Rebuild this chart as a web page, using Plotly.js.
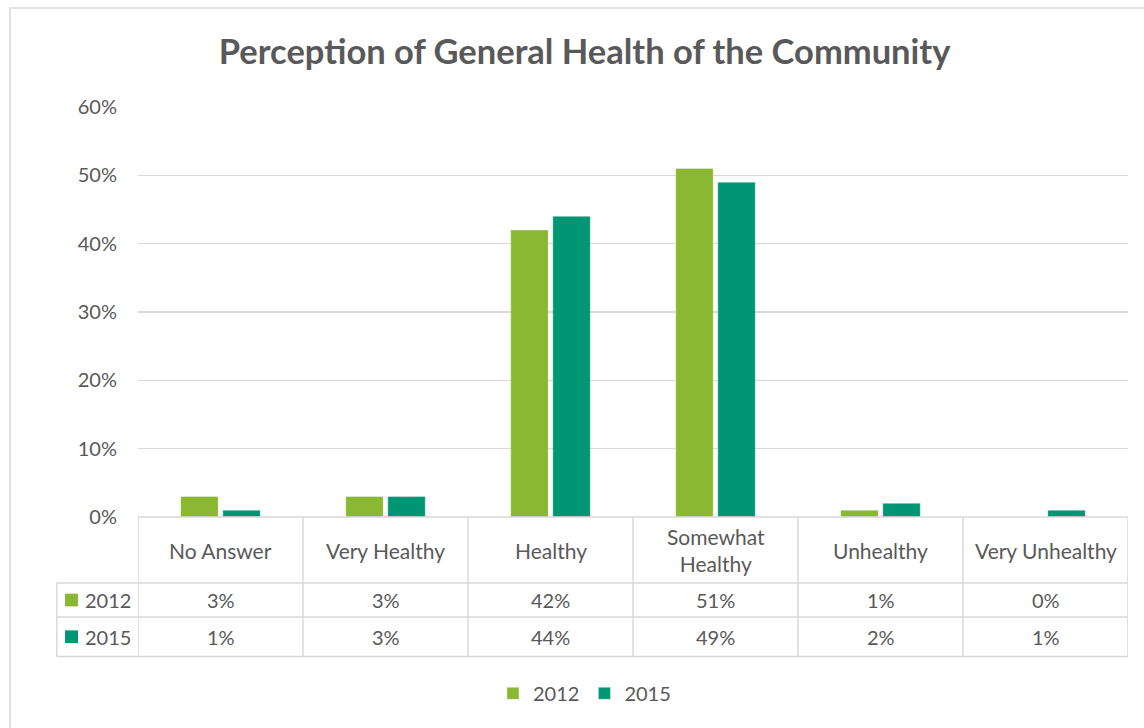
<!DOCTYPE html>
<html><head><meta charset="utf-8">
<script src="https://cdn.plot.ly/plotly-3.0.1.min.js"></script>
<style>html,body{margin:0;padding:0;background:#fff}#chart{width:1144px;height:728px}</style>
</head><body><div id="chart"></div>
<script>
const categories = ["No Answer", "Very Healthy", "Healthy", "Somewhat Healthy", "Unhealthy", "Very Unhealthy"];
const categoryLabels = ["No Answer", "Very Healthy", "Healthy", "Somewhat<br>Healthy", "Unhealthy", "Very Unhealthy"];
const seriesNames = ["2012", "2015"];
const values2012 = [3, 3, 42, 51, 1, 0];
const values2015 = [1, 3, 44, 49, 2, 1];
const yTicks = [0, 10, 20, 30, 40, 50, 60];

const colors = ["#8ab833", "#009673"];
const txt = "#595959";
const grid = "#d9d9d9";
const FONT = "Lato, 'Open Sans', sans-serif";
const allSeries = [values2012, values2015];

const traces = allSeries.map((vals, i) => ({
  type: "bar", name: seriesNames[i], x: categories.map((c, k) => k), y: vals,
  marker: {color: colors[i], line: {color: "rgba(255,255,255,0.35)", width: 1}},
  hoverinfo: "skip"
}));

const rowY = [0, -0.161, -0.244, -0.34];
const shapes = [];
const lc = {color: grid, width: 1.5};
shapes.push({type: "line", xref: "x", yref: "paper", x0: -0.5, x1: categories.length - 0.5, y0: rowY[0], y1: rowY[0], line: lc});
for (let r = 1; r < rowY.length; r++) {
  shapes.push({type: "line", xref: "paper", yref: "paper", x0: -0.082, x1: 1, y0: rowY[r], y1: rowY[r], line: lc});
}
for (let k = 0; k <= categories.length; k++) {
  shapes.push({type: "line", xref: "x", yref: "paper", x0: k - 0.5, x1: k - 0.5, y0: rowY[0], y1: rowY[3], line: lc});
}
shapes.push({type: "line", xref: "paper", yref: "paper", x0: -0.082, x1: -0.082, y0: rowY[1], y1: rowY[3], line: lc});
shapes.push({type: "rect", xref: "paper", yref: "paper", x0: -0.1293, x1: 1.05, y0: -0.6, y1: 1.2415, line: {color: grid, width: 1.5}});
for (let i = 0; i < seriesNames.length; i++) {
  const yc = (rowY[i + 1] + rowY[i + 2]) / 2;
  shapes.push({type: "rect", xref: "paper", yref: "paper", x0: -0.0737, x1: -0.0606, y0: yc - 0.0155, y1: yc + 0.0155, fillcolor: colors[i], line: {width: 0}});
}

const annotations = [];
categoryLabels.forEach((lab, k) => {
  annotations.push({xref: "x", yref: "paper", x: k, y: (rowY[0] + rowY[1]) / 2, text: lab, showarrow: false,
    font: {family: FONT, size: 21, color: txt}, xanchor: "center", yanchor: "middle"});
});
allSeries.forEach((vals, i) => {
  const yc = (rowY[i + 1] + rowY[i + 2]) / 2;
  vals.forEach((v, k) => {
    annotations.push({xref: "x", yref: "paper", x: k, y: yc, text: v + "%", showarrow: false,
      font: {family: FONT, size: 20, color: txt}, xanchor: "center", yanchor: "middle"});
  });
  annotations.push({xref: "paper", yref: "paper", x: -0.0556, y: yc, text: seriesNames[i], showarrow: false,
    font: {family: FONT, size: 20, color: txt}, xanchor: "left", yanchor: "middle"});
});

const layout = {
  width: 1144, height: 728,
  margin: {l: 138, r: 16, t: 107, b: 211},
  paper_bgcolor: "#fff", plot_bgcolor: "#fff",
  title: {text: "<b>Perception of General Health of the Community</b>", x: 0.511, xanchor: "center", y: 0.928, yanchor: "middle",
    font: {family: FONT, size: 34.5, color: txt}},
  barmode: "group", bargap: 0.49, bargroupgap: 0.11,
  xaxis: {range: [-0.5, categories.length - 0.5], showticklabels: false, showgrid: false, zeroline: false, showline: false, ticks: "", fixedrange: true},
  yaxis: {range: [0, 60], tickvals: yTicks, ticktext: yTicks.map(v => v + "%"), showgrid: true, gridcolor: grid, gridwidth: 1.5,
    zeroline: false, showline: false, ticks: "", ticklen: 0, ticklabelstandoff: 20, tickfont: {family: FONT, size: 20, color: txt}, automargin: false, fixedrange: true},
  showlegend: true,
  legend: {orientation: "h", x: 0.451, xanchor: "center", y: -0.43, yanchor: "middle", font: {family: FONT, size: 20, color: txt}, itemwidth: 30, traceorder: "normal"},
  shapes: shapes, annotations: annotations
};
Plotly.newPlot("chart", traces, layout, {displayModeBar: false, staticPlot: true});
</script></body></html>
